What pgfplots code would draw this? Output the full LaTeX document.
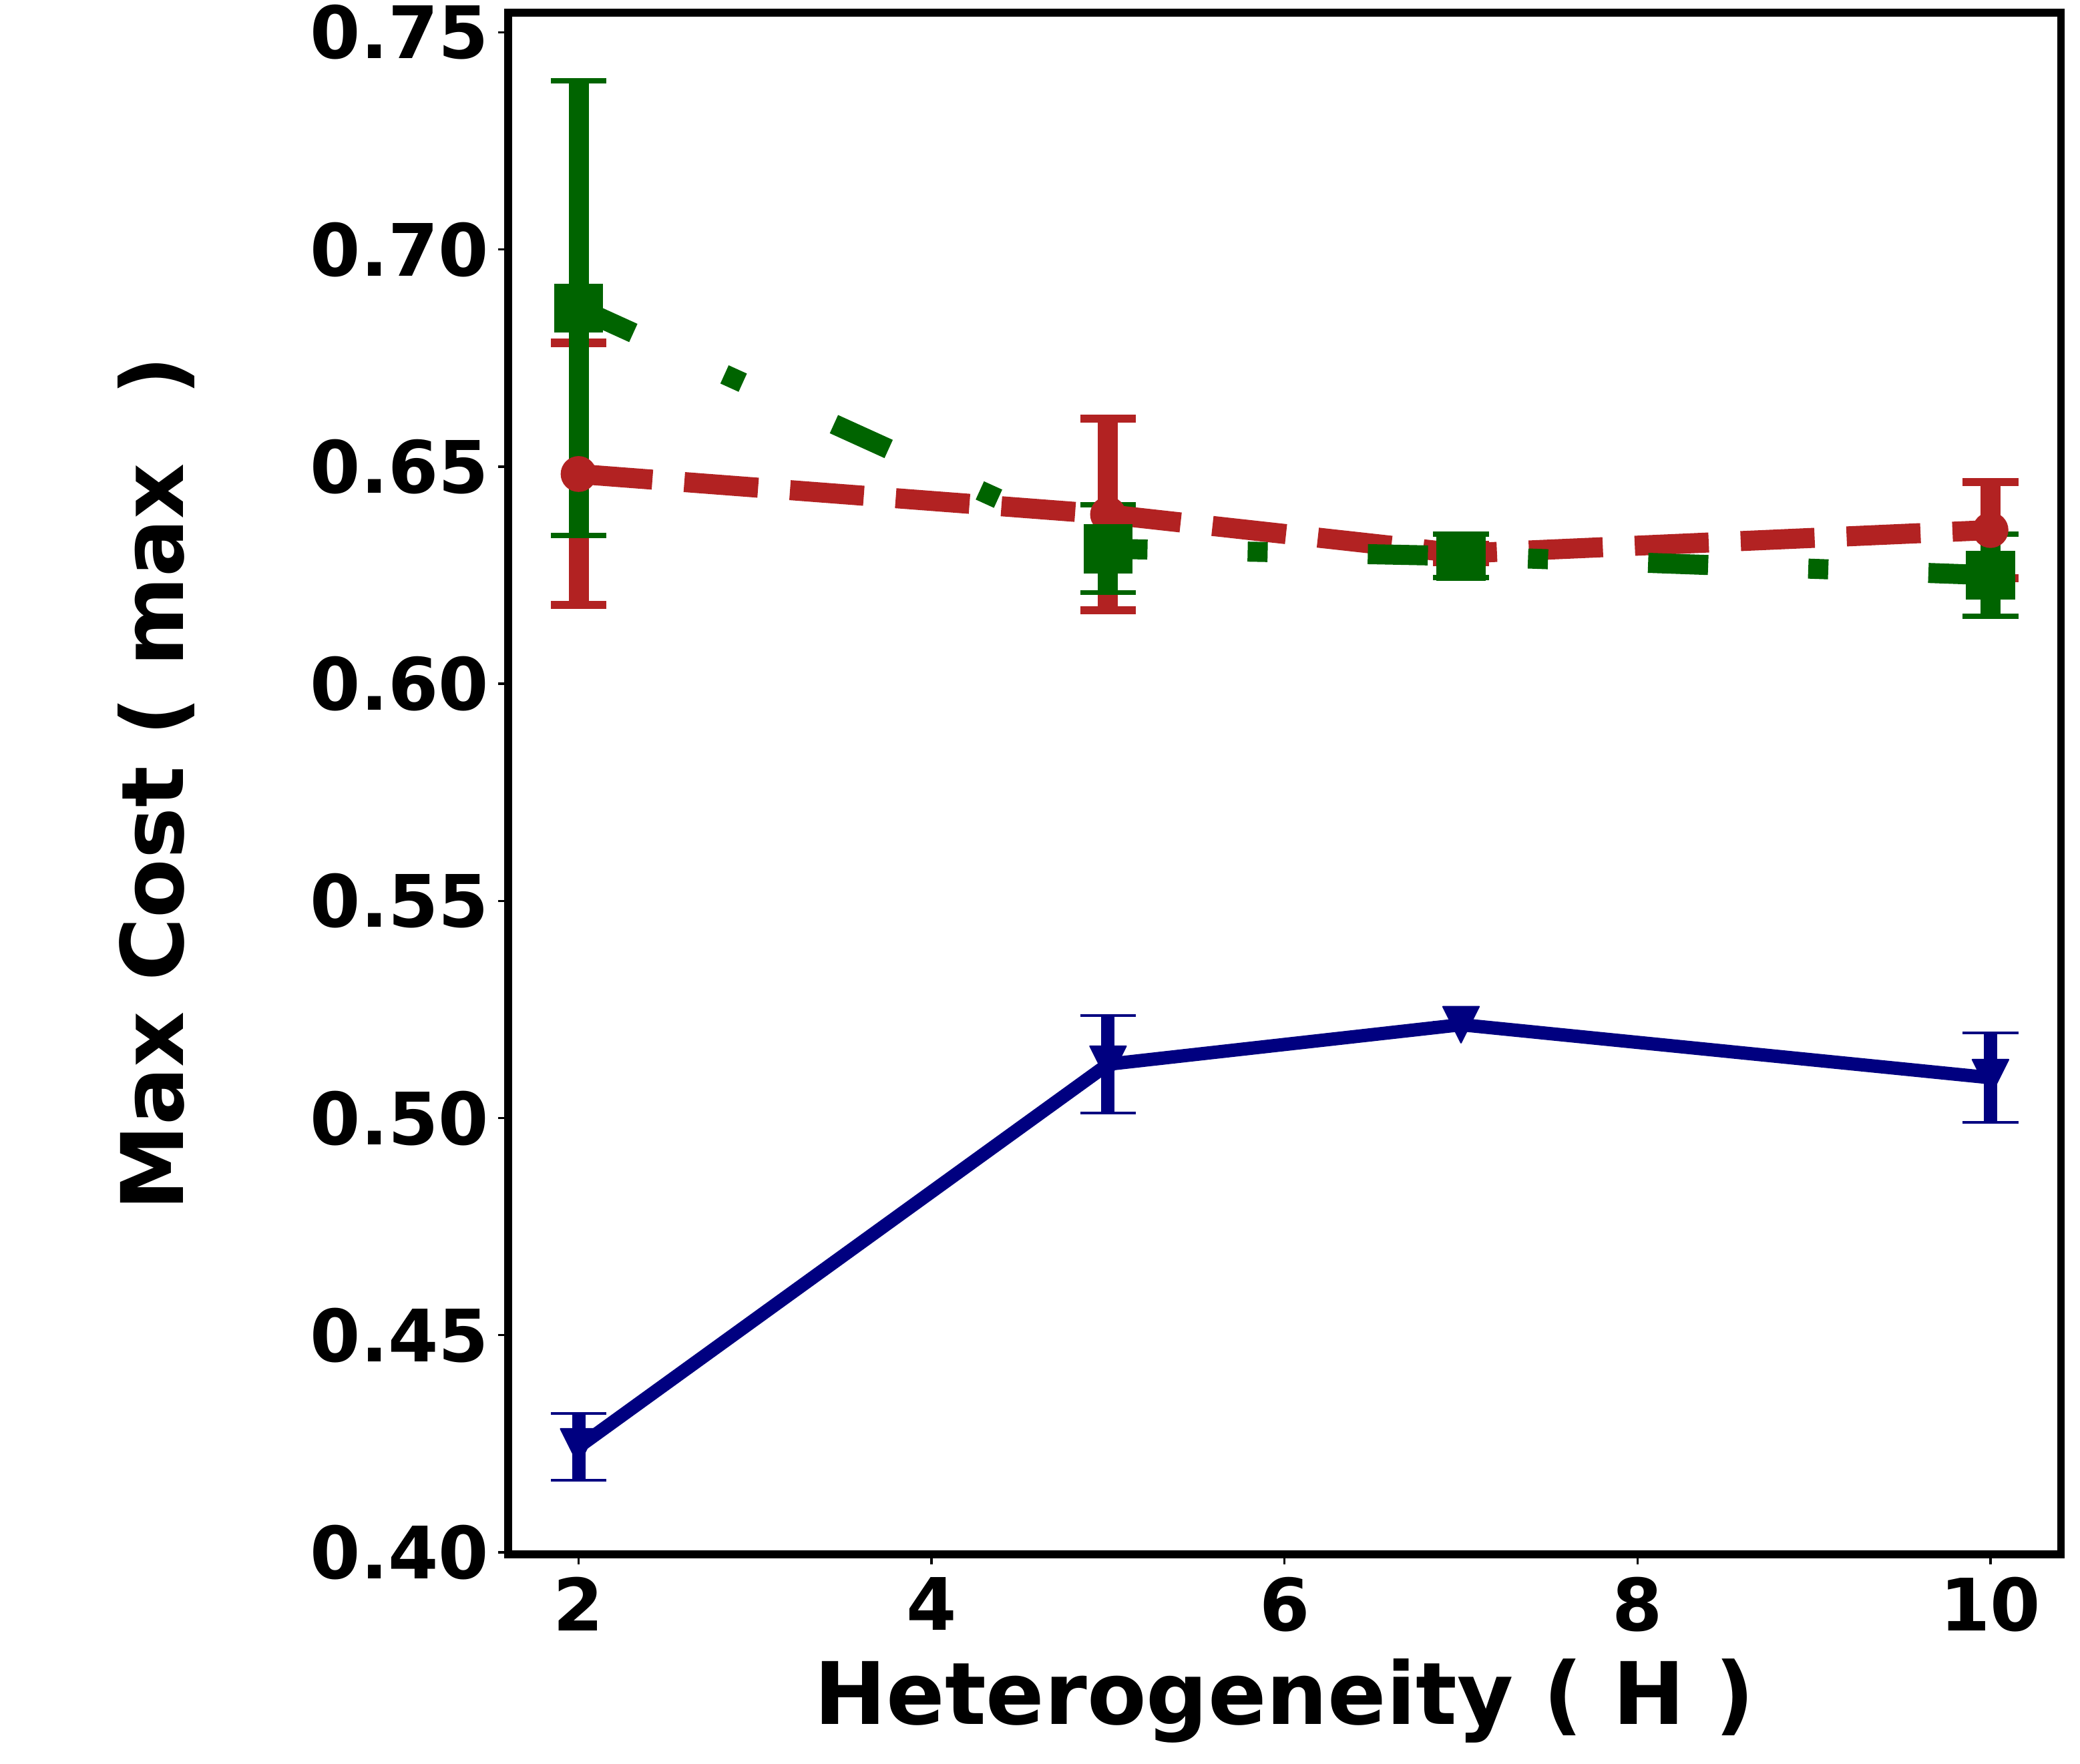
\documentclass[border=0pt]{standalone}
\usepackage{fontspec}
\setmainfont{DejaVu Sans}
\usepackage{pgfplots}
\pgfplotsset{compat=1.18}
\usepackage{pgfplotstable}
\definecolor{navyc}{RGB}{0,0,128}
\definecolor{firebrick}{RGB}{178,34,34}
\definecolor{dkgreen}{RGB}{0,100,0}

\pgfdeclareplotmark{vtri}{%
  \pgfpathmoveto{\pgfqpoint{0pt}{-\pgfplotmarksize}}%
  \pgfpathlineto{\pgfqpoint{\pgfplotmarksize}{\pgfplotmarksize}}%
  \pgfpathlineto{\pgfqpoint{-\pgfplotmarksize}{\pgfplotmarksize}}%
  \pgfpathclose\pgfusepathqfillstroke}

\pgfplotstableread{
x y e
2 0.4243 0.0077
5 0.5124 0.0112
7 0.5215 0.0005
10 0.5093 0.0103
}\bluedata
\pgfplotstableread{
x y e
2 0.6483 0.0302
5 0.6390 0.0221
7 0.6300 0.0020
10 0.6354 0.0111
}\reddata
\pgfplotstableread{
x y e
2 0.6865 0.0523
5 0.6311 0.0101
7 0.6294 0.0050
10 0.6250 0.0095
}\greendata

\begin{document}
\begin{tikzpicture}
\useasboundingbox (-182.6pt,-75.1pt) rectangle (565.0pt,558.8pt);
\begin{axis}[
  at={(0,0)}, anchor=south west,
  scale only axis, width=558.2pt, height=554.2pt,
  xmin=1.6, xmax=10.4, ymin=0.3995, ymax=0.7545,
  xtick={2,4,6,8,10},
  ytick={0.40,0.45,0.50,0.55,0.60,0.65,0.70,0.75},
  scaled y ticks=false,
  y tick label style={/pgf/number format/fixed, /pgf/number format/fixed zerofill, /pgf/number format/precision=2},
  /pgf/number format/assume math mode=true,
  tick label style={font=\fontsize{26}{31}\selectfont\bfseries},
  xticklabel style={inner sep=0pt, anchor=north, yshift=-4.5pt},
  yticklabel style={inner sep=0pt, anchor=east, xshift=-3.2pt},
  axis line style={line width=2.8pt},
  tick align=outside, tick pos=left,
  major tick length=3.5pt,
  every tick/.style={black, line width=0.8pt},
  label style={font=\fontsize{31}{37}\selectfont\bfseries},
  xlabel={Heterogeneity ( H )},
  xlabel style={at={(axis description cs:0.5,-0.11007)}, anchor=base},
  ylabel={Max Cost ( max\hspace{13.5pt} )},
  ylabel style={at={(axis description cs:-0.20925,0.5)}, anchor=base},
]
% error bars first
\addplot[navyc, only marks, mark=none, forget plot,
  error bars/.cd, y dir=both, y explicit,
  error bar style={line width=4.8pt, solid},
  error mark options={rotate=90, line width=0.96pt, mark size=10pt}]
  table[x=x, y=y, y error=e]{\bluedata};
\addplot[firebrick, only marks, mark=none, forget plot,
  error bars/.cd, y dir=both, y explicit,
  error bar style={line width=7.2pt, solid},
  error mark options={rotate=90, line width=2.9pt, mark size=10pt}]
  table[x=x, y=y, y error=e]{\reddata};
\addplot[dkgreen, only marks, mark=none, forget plot,
  error bars/.cd, y dir=both, y explicit,
  error bar style={line width=7.2pt, solid},
  error mark options={rotate=90, line width=1.9pt, mark size=10pt}]
  table[x=x, y=y, y error=e]{\greendata};
% lines with markers
\addplot[navyc, line width=4.8pt, line join=round, mark=vtri, mark size=6.5pt,
  mark options={solid, line width=0.5pt, fill=navyc}]
  table[x=x, y=y]{\bluedata};
\addplot[firebrick, line width=7.2pt, dash pattern=on 26.6pt off 11.5pt, mark=*, mark size=6.2pt,
  mark options={solid, line width=0.5pt, fill=firebrick}]
  table[x=x, y=y]{\reddata};
\addplot[dkgreen, line width=7.2pt, dash pattern=on 21.6pt off 36pt on 7.2pt off 36pt, mark=square*, mark size=8.6pt,
  mark options={solid, line width=0.5pt, fill=dkgreen}]
  table[x=x, y=y]{\greendata};
\end{axis}
\end{tikzpicture}
\end{document}
